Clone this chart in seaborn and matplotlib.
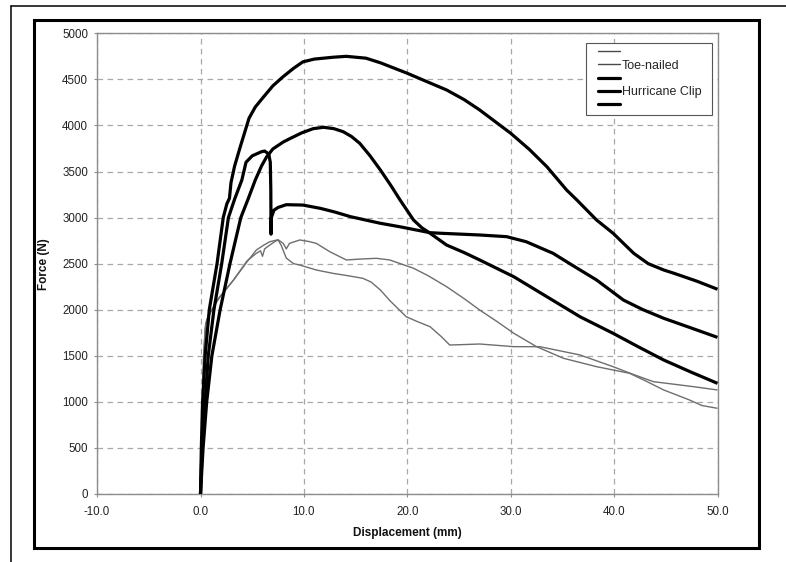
import matplotlib
matplotlib.use("Agg")
import numpy as np
import pandas as pd
import matplotlib.pyplot as plt
import seaborn as sns
from matplotlib.lines import Line2D
from matplotlib.patches import Rectangle
from matplotlib.legend_handler import HandlerLine2D

# ---------------- load-displacement curves ----------------
# Hurricane clip, specimen 1 (highest peak)
disp_h1 = [0.0, 0.08, 0.2, 0.45, 0.85, 1.6, 2.2, 2.55, 2.8, 2.95, 3.3, 3.85, 4.7, 5.3, 6.1, 7.0,
           8.0, 9.0, 9.9, 11.0, 12.8, 14.1, 16.0, 17.4, 20.0, 21.8, 23.8, 25.5, 27.0, 30.0,
           31.8, 33.5, 35.4, 36.4, 38.3, 39.9, 41.9, 43.3, 44.8, 45.8, 48.0, 50.0]
force_h1 = [0, 500, 1000, 1500, 2000, 2500, 3000, 3150, 3210, 3380, 3560, 3770, 4080, 4200, 4310, 4430,
            4530, 4620, 4690, 4720, 4740, 4750, 4730, 4680, 4566, 4480, 4385, 4280, 4168, 3915,
            3740, 3552, 3300, 3191, 2974, 2830, 2612, 2500, 2431, 2395, 2310, 2222]

# Hurricane clip, specimen 2 (peak near 12 mm)
disp_h2 = [0.0, 0.25, 0.6, 1.1, 1.9, 2.85, 3.9, 4.6, 5.3, 5.9, 6.4, 7.0, 8.0, 8.7, 9.8, 10.9,
           11.9, 12.9, 13.8, 14.6, 15.4, 16.4, 17.4, 18.4, 19.3, 20.6, 21.4, 22.2, 23.8, 25.5,
           27.0, 30.3, 33.5, 36.7, 39.9, 42.3, 44.8, 47.5, 50.0]
force_h2 = [0, 500, 1000, 1500, 2000, 2500, 3000, 3200, 3408, 3560, 3660, 3745, 3820, 3860, 3920, 3965,
            3980, 3965, 3932, 3880, 3806, 3670, 3516, 3350, 3191, 2974, 2890, 2830, 2702, 2620,
            2540, 2358, 2141, 1924, 1744, 1600, 1454, 1320, 1201]

# Hurricane clip, specimen 3 (early peak with sudden drop)
disp_h3 = [0.0, 0.15, 0.45, 0.75, 1.3, 2.05, 2.7, 3.3, 4.0, 4.4, 5.0, 5.9, 6.2, 6.6, 6.75, 6.8,
           6.82, 6.85, 7.1, 7.5, 8.3, 9.9, 11.6, 13.0, 14.5, 17.4, 19.3, 22.2, 23.2, 27.0,
           29.6, 31.5, 34.1, 36.0, 38.3, 40.9, 42.8, 44.8, 47.5, 50.0]
force_h3 = [0, 500, 1000, 1500, 2000, 2500, 3000, 3200, 3408, 3600, 3670, 3715, 3722, 3690, 3600, 3300,
            2820, 3000, 3080, 3110, 3140, 3136, 3100, 3060, 3010, 2938, 2900, 2836, 2830, 2811,
            2793, 2738, 2612, 2480, 2323, 2105, 2000, 1907, 1800, 1700]

# Toe-nailed, specimen 1
disp_t1 = [0.0, 0.1, 0.2, 0.3, 0.45, 0.6, 1.6, 3.2, 4.5, 5.4, 5.8, 6.0, 6.2, 6.7, 7.2, 7.5,
           7.8, 8.3, 9.0, 9.6, 11.2, 12.8, 14.2, 15.7, 16.5, 17.4, 18.3, 19.9, 21.0, 22.2,
           23.3, 24.1, 25.0, 27.0, 30.3, 32.8, 34.5, 36.7, 39.9, 41.8, 43.8, 46.4, 48.0, 50.0]
force_t1 = [0, 500, 1000, 1500, 1800, 1888, 2105, 2323, 2530, 2612, 2640, 2580, 2660, 2702, 2740, 2757,
            2700, 2560, 2500, 2485, 2431, 2395, 2370, 2341, 2300, 2214, 2100, 1924, 1870, 1816,
            1707, 1617, 1620, 1628, 1599, 1599, 1560, 1509, 1382, 1300, 1219, 1183, 1160, 1129]

# Toe-nailed, specimen 2
disp_t2 = [0.0, 0.1, 0.2, 0.3, 0.5, 0.8, 1.9, 3.2, 4.5, 5.4, 6.1, 6.7, 7.5, 8.0, 8.3, 8.6,
           9.6, 10.5, 11.2, 12.5, 14.1, 15.5, 17.0, 18.3, 20.6, 22.0, 23.8, 25.5, 27.0, 28.7,
           30.3, 32.5, 35.1, 38.3, 41.5, 43.0, 44.8, 47.3, 48.5, 50.0]
force_t2 = [0, 500, 1000, 1500, 1850, 1950, 2141, 2323, 2520, 2648, 2700, 2738, 2760, 2720, 2660, 2720,
            2757, 2740, 2720, 2630, 2540, 2550, 2558, 2540, 2450, 2370, 2250, 2120, 1997, 1870,
            1744, 1599, 1473, 1382, 1310, 1230, 1129, 1020, 960, 930]

x_ticks = [-10, 0, 10, 20, 30, 40, 50]
y_ticks = [0, 500, 1000, 1500, 2000, 2500, 3000, 3500, 4000, 4500, 5000]
legend_labels = [" ", "Toe-nailed", " ", "Hurricane Clip  ", " "]

toe_curves = [(disp_t1, force_t1), (disp_t2, force_t2)]
clip_curves = [(disp_h1, force_h1), (disp_h2, force_h2), (disp_h3, force_h3)]

# ---------------- style ----------------
sns.set_theme(style="white")
plt.rcParams["font.family"] = ["Liberation Sans", "DejaVu Sans"]
plt.rcParams["axes.unicode_minus"] = False

TOE_COLOR = "#6e6e6e"
TOE_LEGEND_COLOR = "#4a4a4a"
CLIP_COLOR = "#000000"
TOE_LW = 1.0
CLIP_LW = 2.3

fig = plt.figure(figsize=(7.86, 5.62), dpi=100)
ax = fig.add_axes([97.1 / 786, 68 / 562, 620.4 / 786, 460.7 / 562])

frames = []
for i, (d, f) in enumerate(toe_curves):
    frames.append(pd.DataFrame({"disp": d, "force": f, "test": f"toe{i}"}))
for i, (d, f) in enumerate(clip_curves):
    frames.append(pd.DataFrame({"disp": d, "force": f, "test": f"clip{i}"}))

for df in frames:
    is_toe = df["test"].iloc[0].startswith("toe")
    sns.lineplot(data=df, x="disp", y="force", ax=ax, sort=False, estimator=None,
                 color=TOE_COLOR if is_toe else CLIP_COLOR,
                 linewidth=TOE_LW if is_toe else CLIP_LW, legend=False,
                 solid_joinstyle="round", solid_capstyle="butt", zorder=3)

ax.set_xlim(-10, 50)
ax.set_ylim(0, 5000)
ax.set_xticks(x_ticks)
ax.set_xticklabels([f"{v:.1f}" for v in x_ticks])
ax.set_yticks(y_ticks)
ax.set_yticklabels([str(v) for v in y_ticks])

ax.grid(True, color="#a8a8a8", linestyle=(0, (4.5, 3.5)), linewidth=0.9)
ax.set_axisbelow(True)
for s in ax.spines.values():
    s.set_visible(True)
    s.set_color("#8c8c8c")
    s.set_linewidth(1.0)

ax.tick_params(axis="both", bottom=True, left=True, direction="out", length=2.4,
               width=0.8, color="#8c8c8c", labelsize=8.3, labelcolor="#222222")
ax.tick_params(axis="x", pad=6)
ax.tick_params(axis="y", pad=4)

ax.set_xlabel("Displacement (mm)", fontsize=8.5, fontweight="bold", color="#111111", labelpad=7)
ax.set_ylabel("Force (N)", fontsize=8.5, fontweight="bold", color="#111111", labelpad=9)


class InsetLineHandler(HandlerLine2D):
    """Legend line drawn only over the right part of the handle box."""

    def __init__(self, inset, **kw):
        super().__init__(**kw)
        self.inset = inset

    def create_artists(self, legend, orig_handle, xdescent, ydescent, width, height, fontsize, trans):
        arts = super().create_artists(legend, orig_handle, xdescent, ydescent, width, height,
                                      fontsize, trans)
        for a in arts:
            if isinstance(a, Line2D):
                x = np.asarray(a.get_xdata(), dtype=float)
                if len(x) >= 2:
                    a.set_xdata(np.linspace(x[0] + self.inset, x[-1], len(x)))
        return arts


handles = [
    Line2D([], [], color=TOE_LEGEND_COLOR, lw=TOE_LW),
    Line2D([], [], color=TOE_LEGEND_COLOR, lw=TOE_LW),
    Line2D([], [], color=CLIP_COLOR, lw=CLIP_LW),
    Line2D([], [], color=CLIP_COLOR, lw=CLIP_LW),
    Line2D([], [], color=CLIP_COLOR, lw=CLIP_LW),
]
leg = ax.legend(handles, legend_labels, loc="upper left", bbox_to_anchor=(0.788, 0.979),
                frameon=True, fancybox=False, fontsize=9, handlelength=2.44,
                handletextpad=0.15, labelspacing=0.1, borderpad=0.29, borderaxespad=0.0,
                handler_map={Line2D: InsetLineHandler(inset=6.0)})
leg.get_frame().set_edgecolor("#555555")
leg.get_frame().set_linewidth(0.8)
leg.get_frame().set_facecolor("white")
leg.get_frame().set_alpha(1.0)
leg.set_zorder(5)

# surrounding chart-area frame and outer page rules
fig.add_artist(Rectangle((33.5 / 786, 1 - 548 / 562), (758.5 - 33.5) / 786, (548 - 19.5) / 562,
                         transform=fig.transFigure, fill=False, lw=2.2, ec="black"))
fig.add_artist(Line2D([10.5 / 786, 1.0], [1 - 6 / 562, 1 - 6 / 562], transform=fig.transFigure,
                      color="black", lw=1.1))
fig.add_artist(Line2D([10.5 / 786, 10.5 / 786], [1 - 6 / 562, 0.0], transform=fig.transFigure,
                      color="black", lw=1.1))

fig.savefig("out.png", dpi=100, facecolor="white")
